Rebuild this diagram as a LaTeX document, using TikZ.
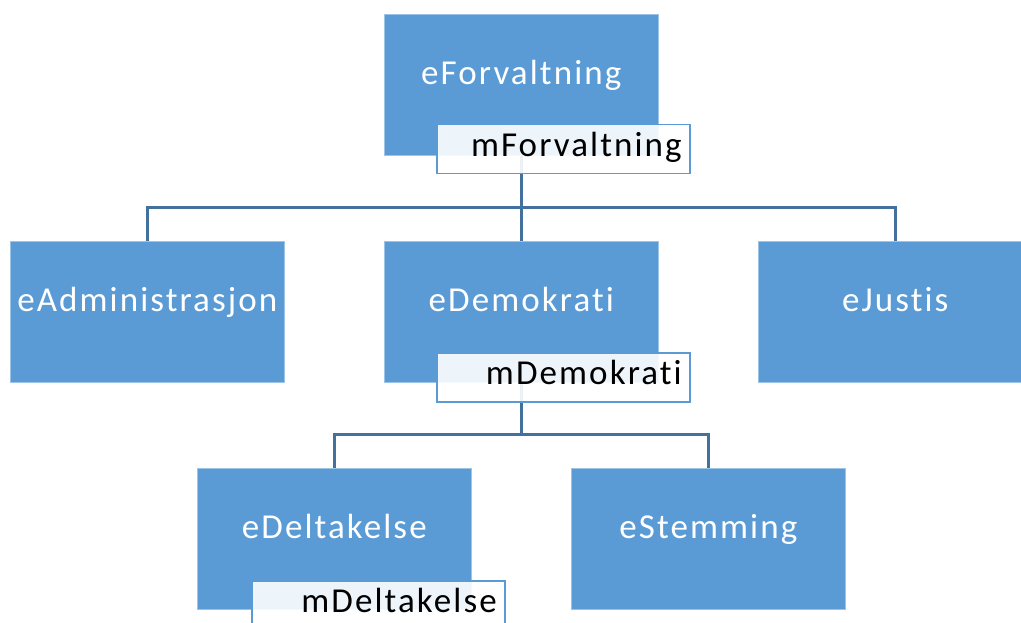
\documentclass[tikz,border=0pt]{standalone}
\usepackage{fontspec}
\setmainfont{Carlito}
\newfontfamily\boxfont[LetterSpace=6,Ligatures={NoCommon,NoRequired,NoContextual}]{Carlito}
\usepackage{tikz}
\usetikzlibrary{positioning}
\definecolor{boxblue}{HTML}{5B9BD5}
\definecolor{linieblau}{HTML}{41719C}

\begin{document}
\begin{tikzpicture}[x=1pt,y=-1pt,
  ebox/.style={fill=boxblue,draw=boxblue!60!white,line width=0.6pt,minimum width=274pt,minimum height=141pt,
    anchor=north west,inner sep=0pt,text height=20pt,text depth=20pt,text=white,font=\boxfont\fontsize{35}{40}\selectfont},
  mlabel/.style={fill=white,fill opacity=0.9,text opacity=1,draw=boxblue,line width=1.5pt,minimum width=253pt,minimum height=49pt,
    anchor=north west,inner xsep=8pt,inner ysep=0pt,text width=237pt,align=right,text height=25pt,text depth=10pt,
    font=\boxfont\fontsize{35}{40}\selectfont},
  conn/.style={draw=linieblau,line width=2.8pt}]
%cadre
\useasboundingbox (0,0) rectangle (1021,623);
%boites
\node[ebox] (forv) at (384,14) {eForvaltning};
\node[ebox] (adm) at (10,241) {eAdministrasjon};
\node[ebox] (demo) at (384,241) {eDemokrati};
\node[ebox] (just) at (758,241) {eJustis};
\node[ebox] (delt) at (197,468) {eDeltakelse};
\node[ebox] (stem) at (571,468) {eStemming};
%liaisons
\draw[conn] (forv.south) -- ++(0,52) -| (adm.north);
\draw[conn] (forv.south) -- ++(0,52) -| (demo.north);
\draw[conn] (forv.south) -- ++(0,52) -| (just.north);
\draw[conn] (demo.south) -- ++(0,52) -| (delt.north);
\draw[conn] (demo.south) -- ++(0,52) -| (stem.north);
%etiquettes
\node[mlabel] (mforv) at ([shift={(52,110)}]forv.north west) {mForvaltning};
\node[mlabel] (mdemo) at ([shift={(52,111)}]demo.north west) {mDemokrati};
\node[mlabel] (mdelt) at ([shift={(54,112)}]delt.north west) {mDeltakelse};
\end{tikzpicture}
\end{document}
